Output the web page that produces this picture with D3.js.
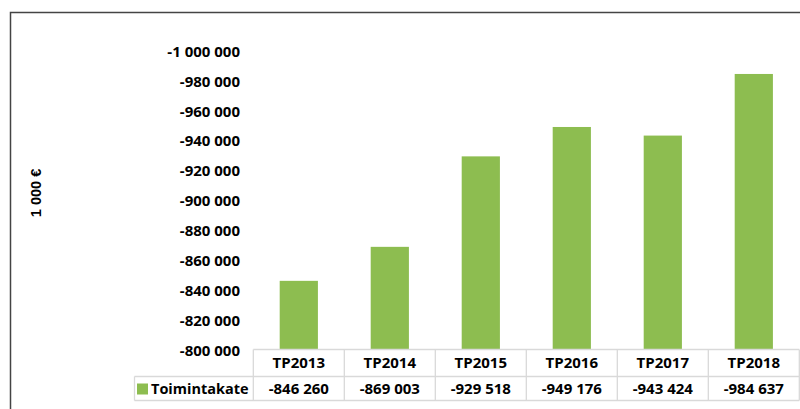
<!DOCTYPE html>
<html><head><meta charset="utf-8">
<script src="https://cdn.jsdelivr.net/npm/d3@7/dist/d3.min.js"></script>
<style>body{margin:0;background:#fff;}svg{display:block;}</style>
</head><body>
<svg id="c" width="800" height="409"></svg>
<script>
const categories = ["TP2013","TP2014","TP2015","TP2016","TP2017","TP2018"];
const seriesName = "Toimintakate";
const values = [-846260,-869003,-929518,-949176,-943424,-984637];
const valueLabels = ["-846 260","-869 003","-929 518","-949 176","-943 424","-984 637"];
const yTicks = [-800000,-820000,-840000,-860000,-880000,-900000,-920000,-940000,-960000,-980000,-1000000];
const yTitle = "1 000 €";

(function(){
const svg = d3.select("#c");
const green = "#8DBD50";
const fontMain = "'Open Sans','Noto Sans',sans-serif";

// frame
svg.append("path").attr("d","M10.5,409 V12.5 H800").attr("fill","none").attr("stroke","#444").attr("stroke-width",1.5);

const pLeft = 253.3, pRight = 799.3, pTop = 51, pBottom = 350;
const xCol = d3.scaleBand().domain(categories).range([pLeft,pRight]).padding(0);
const xBar = d3.scaleBand().domain(categories).range([pLeft,pRight]).paddingInner(0.58).paddingOuter(0.29);
const y = d3.scaleLinear().domain([-800000,-1000000]).range([pBottom,pTop]);

const fmt = v => d3.format(",")(v).replace(/,/g," ").replace("−","-");

// y axis labels
const yAxis = d3.axisLeft(y).tickValues(yTicks).tickSize(0).tickPadding(0).tickFormat(fmt);
const ga = svg.append("g").attr("transform","translate(240,0)").call(yAxis);
ga.select(".domain").remove();
ga.selectAll("text").attr("font-family",fontMain).attr("font-weight","bold").attr("font-size",15).attr("fill","#000").attr("dy","0.35em");

// bars
svg.append("g").selectAll("rect").data(values).join("rect")
  .attr("x",(d,i)=>xBar(categories[i]))
  .attr("width",xBar.bandwidth())
  .attr("y",d=>y(d))
  .attr("height",d=>y(-800000)-y(d))
  .attr("fill",green);

// y title
svg.append("text").attr("transform","translate(41,193) rotate(-90)")
  .attr("text-anchor","middle").attr("font-family","'Liberation Sans',Arial,sans-serif")
  .attr("font-weight","bold").attr("font-size",14.5).attr("fill","#000").text(yTitle);

// data table
const rowTop = 349.5, rowMid = 376.5, rowBot = 400.5, legLeft = 134.5;
const tg = svg.append("g").attr("stroke","#d9d9d9").attr("stroke-width",1.3).attr("fill","none");
tg.append("line").attr("x1",xCol(categories[0])).attr("x2",pRight).attr("y1",rowTop).attr("y2",rowTop);
tg.append("line").attr("x1",legLeft).attr("x2",pRight).attr("y1",rowMid).attr("y2",rowMid);
tg.append("line").attr("x1",legLeft).attr("x2",pRight).attr("y1",rowBot).attr("y2",rowBot);
tg.append("line").attr("x1",legLeft).attr("x2",legLeft).attr("y1",rowMid).attr("y2",rowBot);
categories.forEach(c=>{
  tg.append("line").attr("x1",xCol(c)).attr("x2",xCol(c)).attr("y1",rowTop).attr("y2",rowBot);
});
tg.append("line").attr("x1",pRight).attr("x2",pRight).attr("y1",rowTop).attr("y2",rowBot);

svg.append("g").selectAll("text").data(categories).join("text")
  .attr("x",d=>xCol(d)+xCol.bandwidth()/2).attr("y",363).attr("dy","0.35em")
  .attr("text-anchor","middle").attr("font-family",fontMain).attr("font-weight","bold")
  .attr("font-size",15).attr("fill","#000").text(d=>d);

svg.append("g").selectAll("text").data(valueLabels).join("text")
  .attr("x",(d,i)=>xCol(categories[i])+xCol.bandwidth()/2).attr("y",389).attr("dy","0.35em")
  .attr("text-anchor","middle").attr("font-family",fontMain).attr("font-weight","bold")
  .attr("font-size",15).attr("fill","#000").text(d=>d);

svg.append("rect").attr("x",137).attr("y",383.5).attr("width",11).attr("height",11).attr("fill",green);
svg.append("text").attr("x",151).attr("y",389).attr("dy","0.35em")
  .attr("font-family",fontMain).attr("font-weight","bold").attr("font-size",14.5).attr("fill","#000").text(seriesName);
})();
</script>
</body></html>
